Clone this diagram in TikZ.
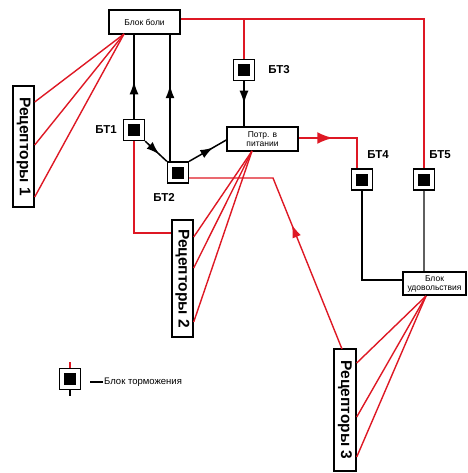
\documentclass[tikz,border=0pt]{standalone}
\usepackage{fontspec}
\setmainfont{Liberation Sans}
\usetikzlibrary{arrows.meta,decorations.markings}
\definecolor{lred}{RGB}{222,24,36}
\definecolor{lgray}{RGB}{95,95,95}
\tikzset{
  blk/.style={draw=black, line width=1.4pt, fill=white, inner sep=0pt, align=center,
    font=\fontsize{8.5}{9}\selectfont},
  btbox/.style={draw=black, line width=1.3pt, fill=white, minimum size=21pt, inner sep=0pt,
    path picture={\fill[black] ([shift={(-6pt,-6pt)}]path picture bounding box.center) rectangle ([shift={(6pt,6pt)}]path picture bounding box.center);}},
  btlabel/.style={font=\bfseries\fontsize{11.5}{12}\selectfont, inner sep=0pt},
  recbox/.style={draw=black, line width=1.4pt, fill=white, inner sep=0pt, rotate=-90,
    font=\bfseries\fontsize{15.5}{16}\selectfont},
  redline/.style={draw=lred, line width=1.4pt},
  blkline/.style={draw=black, line width=1.5pt},
  midarrow/.style={postaction={decorate}, decoration={markings,
    mark=at position #1 with {\arrow{Latex[length=13pt,width=9pt]}}}},
  midarrow/.default=0.5,
}
\begin{document}
\begin{tikzpicture}[x=1pt,y=-1pt]
\useasboundingbox (0,0) rectangle (467,473);

% main blocks
\node[blk, minimum width=71pt, minimum height=24pt] (boli) at (144.5,22) {Блок боли};
\node[blk, minimum width=71pt, minimum height=24pt] (potr) at (262.5,139) {Потр. в\\питании};
\node[blk, minimum width=63pt, minimum height=23pt] (ud) at (434.5,283.5) {Блок\\удовольствия};

% receptor boxes
\node[recbox, minimum width=121pt, minimum height=21pt] (r1) at (23.5,146.5) {Рецепторы 1};
\node[recbox, minimum width=117pt, minimum height=21pt] (r2) at (182.5,278.5) {Рецепторы 2};
\node[recbox, minimum width=122pt, minimum height=22pt] (r3) at (345,410) {Рецепторы 3};

% braking blocks
\node[btbox] (bt1) at (134,130) {};
\node[btbox] (bt2) at (178,172.5) {};
\node[btbox] (bt3) at (244,70) {};
\node[btbox] (bt4) at (362,179.5) {};
\node[btbox] (bt5) at (424,179.5) {};

\node[btlabel] (l1) at (106,130) {БТ1};
\node[btlabel] (l2) at (164,197) {БТ2};
\node[btlabel] (l3) at (279,70) {БТ3};
\node[btlabel] (l4) at (378,155) {БТ4};
\node[btlabel] (l5) at (440,155) {БТ5};

% coordinates for connectors
\coordinate (p1) at (124,34);
\coordinate (top5) at (bt5.north |- 0,19);
\coordinate (top3) at (bt3.north |- 0,19);
\coordinate (c4) at (357,138);
\coordinate (c2) at (273,178);
\coordinate (c1) at (134,233);
\coordinate (pp) at (252,151);
\coordinate (pu) at (426,296);
\coordinate (b4) at (362,280);

% red: pain block to BT3 and BT5
\draw[redline] (boli.east |- 0,19) -- (top5) -- (bt5.north);
\draw[redline] (top3) -- (bt3.north);

% receptors 1
\draw[redline] (p1) -- (r1.north |- 0,102);
\draw[redline] (p1) -- (r1.north |- 0,145);
\draw[redline] (p1) -- (r1.north |- 0,197);

% receptors 2
\draw[redline] (pp) -- (r2.north |- 0,237);
\draw[redline] (pp) -- (r2.north |- 0,268);
\draw[redline] (pp) -- (r2.north |- 0,322);
\draw[redline] (bt1.south) -- (c1) -- (r2.south |- c1);

% receptors 3
\draw[redline] (pu) -- (r3.north |- 0,363);
\draw[redline] (pu) -- (r3.north |- 0,417);
\draw[redline] (pu) -- (r3.north |- 0,457);
\draw[redline, postaction={decorate}, decoration={markings,
  mark=at position 0.5 with {\arrow[lred]{Latex[length=13pt,width=9pt]}}}]
  (342,349) -- (c2) -- (bt2.east |- c2);

% black connectors
\draw[blkline, midarrow=0.45] (bt1.north |- 0,119.5) -- (bt1.north |- boli.south);
\draw[blkline, midarrow=0.6] (170,162) -- (170,34);
\draw[blkline, midarrow=0.65] (bt1.south east) -- (bt2.north west);
\draw[blkline, midarrow=0.65] (bt2.north east) -- (potr.west |- 0,140);
\draw[blkline, midarrow=0.5] (bt3.south) -- (potr.north -| bt3.south);

% red thick arrow to BT4
\draw[draw=lred, line width=2.6pt, postaction={decorate}, decoration={markings,
  mark=at position 0.39 with {\arrow[lred]{Latex[length=16pt,width=12pt]}}}]
  (potr.east |- c4) -- (c4) -- (c4 |- bt4.north);

% BT4, BT5 to pleasure block
\draw[draw=black, line width=2.6pt] (bt4.south) -- (b4) -- (ud.west |- b4);
\draw[draw=lgray, line width=2pt] (bt5.south) -- (bt5.south |- ud.north);

% legend
\node[btbox] (lg) at (70,379) {};
\draw[redline] (lg.north) -- ++(0,-6);
\draw[blkline] (lg.south) -- ++(0,6);
\coordinate (d1) at (90,382);
\coordinate (d2) at (103,382);
\draw[draw=black, line width=2pt] (d1) -- (d2);
\node[anchor=west, inner sep=1pt, font=\fontsize{9.5}{10}\selectfont] (lgt) at (d2) {Блок торможения};
\end{tikzpicture}
\end{document}
